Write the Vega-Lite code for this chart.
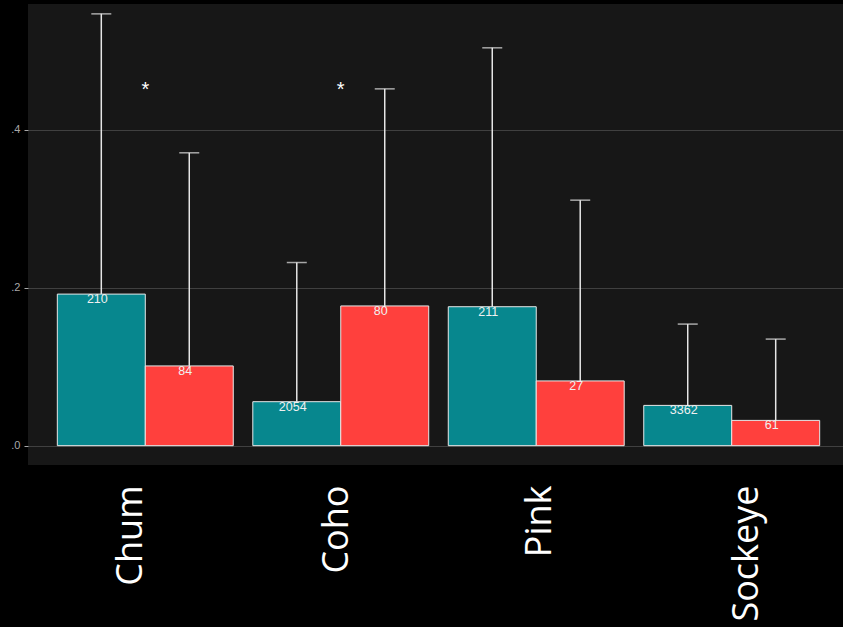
{
  "$schema": "https://vega.github.io/schema/vega-lite/v6.json",
  "autosize": "none",
  "width": 821,
  "height": 461,
  "padding": {"left": 28, "top": 4, "right": 0, "bottom": 162},
  "background": "#000000",
  "config": {
    "view": {"fill": "#171717", "stroke": null},
    "axis": {"domain": false}
  },
  "datasets": {
    "bars": [
      {"species": "Chum", "group": "A", "value": 0.192, "upper": 0.547, "n": "210"},
      {"species": "Chum", "group": "B", "value": 0.101, "upper": 0.371, "n": "84"},
      {"species": "Coho", "group": "A", "value": 0.0557, "upper": 0.232, "n": "2054"},
      {"species": "Coho", "group": "B", "value": 0.177, "upper": 0.452, "n": "80"},
      {"species": "Pink", "group": "A", "value": 0.176, "upper": 0.504, "n": "211"},
      {"species": "Pink", "group": "B", "value": 0.082, "upper": 0.311, "n": "27"},
      {"species": "Sockeye", "group": "A", "value": 0.051, "upper": 0.154, "n": "3362"},
      {"species": "Sockeye", "group": "B", "value": 0.032, "upper": 0.135, "n": "61"}
    ],
    "stars": [
      {"species": "Chum", "y": 0.455, "label": "*"},
      {"species": "Coho", "y": 0.455, "label": "*"}
    ]
  },
  "encoding": {
    "x": {
      "field": "species",
      "type": "nominal",
      "scale": {"domain": ["Chum", "Coho", "Pink", "Sockeye"], "paddingInner": 0.1, "paddingOuter": 0.15},
      "axis": {
        "title": null,
        "labelAngle": -90,
        "labelAlign": "right",
        "labelBaseline": "alphabetic",
        "labelFont": "Open Sans",
        "labelFontSize": 36,
        "labelColor": "#ffffff",
        "labelPadding": 20,
        "ticks": false,
        "grid": false,
        "labelOffset": {
          "condition": [
            {"test": "datum.value === 'Chum'", "value": -3},
            {"test": "datum.value === 'Coho'", "value": 7},
            {"test": "datum.value === 'Pink'", "value": 15}
          ],
          "value": 26
        }
      }
    }
  },
  "layer": [
    {
      "data": {"name": "bars"},
      "mark": {"type": "bar", "stroke": "#e8e8e8", "strokeWidth": 1},
      "encoding": {
        "xOffset": {"field": "group", "type": "nominal", "scale": {"paddingInner": 0, "paddingOuter": 0}},
        "y": {
          "field": "value",
          "type": "quantitative",
          "scale": {"domain": [-0.0245, 0.5595], "nice": false, "zero": false},
          "axis": {
            "title": null,
            "values": [0, 0.2, 0.4],
            "labelExpr": "replace(format(datum.value, '.1f'), '0.', '.')",
            "labelColor": "#a8a8a8",
            "labelFontSize": 11,
            "labelFont": "Liberation Sans",
            "tickColor": "#a8a8a8",
            "tickSize": 4,
            "labelPadding": 4,
            "gridColor": "#404040",
            "gridWidth": 1
          }
        },
        "color": {
          "field": "group",
          "type": "nominal",
          "scale": {"domain": ["A", "B"], "range": ["#07878E", "#FF403D"]},
          "legend": null
        }
      }
    },
    {
      "data": {"name": "bars"},
      "mark": {"type": "rule", "color": "#e6e6e6", "strokeWidth": 1.5},
      "encoding": {
        "xOffset": {"field": "group", "type": "nominal"},
        "y": {"field": "value", "type": "quantitative"},
        "y2": {"field": "upper"}
      }
    },
    {
      "data": {"name": "bars"},
      "mark": {"type": "tick", "color": "#e6e6e6", "thickness": 1.5, "size": 20, "orient": "horizontal"},
      "encoding": {
        "xOffset": {"field": "group", "type": "nominal"},
        "y": {"field": "upper", "type": "quantitative"}
      }
    },
    {
      "data": {"name": "bars"},
      "mark": {"type": "text", "color": "#f0f0f0", "fontSize": 12.5, "font": "Liberation Sans", "baseline": "middle", "dy": 5, "dx": -4},
      "encoding": {
        "xOffset": {"field": "group", "type": "nominal"},
        "y": {"field": "value", "type": "quantitative"},
        "text": {"field": "n"}
      }
    },
    {
      "data": {"name": "stars"},
      "mark": {"type": "text", "color": "#ffffff", "fontSize": 20, "font": "Liberation Sans", "baseline": "middle", "dy": 4},
      "encoding": {
        "y": {"field": "y", "type": "quantitative"},
        "text": {"field": "label"}
      }
    }
  ]
}
